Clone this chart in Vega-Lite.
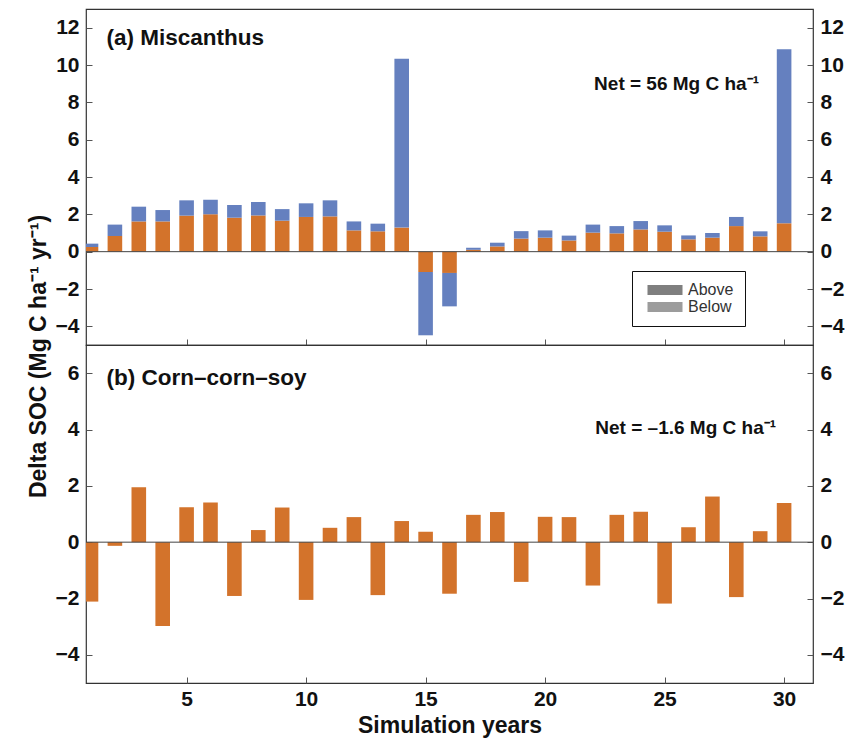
{
  "$schema": "https://vega.github.io/schema/vega-lite/v6.json",
  "padding": {"left": 26, "top": 8, "right": 0, "bottom": 0},
  "background": "white",
  "datasets": {
    "misc": [
      {"year": 1, "part": "Below", "value": 0.25}, {"year": 1, "part": "Above", "value": 0.18},
      {"year": 2, "part": "Below", "value": 0.84}, {"year": 2, "part": "Above", "value": 0.61},
      {"year": 3, "part": "Below", "value": 1.62}, {"year": 3, "part": "Above", "value": 0.79},
      {"year": 4, "part": "Below", "value": 1.62}, {"year": 4, "part": "Above", "value": 0.61},
      {"year": 5, "part": "Below", "value": 1.93}, {"year": 5, "part": "Above", "value": 0.82},
      {"year": 6, "part": "Below", "value": 2.0}, {"year": 6, "part": "Above", "value": 0.78},
      {"year": 7, "part": "Below", "value": 1.82}, {"year": 7, "part": "Above", "value": 0.68},
      {"year": 8, "part": "Below", "value": 1.94}, {"year": 8, "part": "Above", "value": 0.72},
      {"year": 9, "part": "Below", "value": 1.66}, {"year": 9, "part": "Above", "value": 0.62},
      {"year": 10, "part": "Below", "value": 1.86}, {"year": 10, "part": "Above", "value": 0.73},
      {"year": 11, "part": "Below", "value": 1.89}, {"year": 11, "part": "Above", "value": 0.86},
      {"year": 12, "part": "Below", "value": 1.14}, {"year": 12, "part": "Above", "value": 0.48},
      {"year": 13, "part": "Below", "value": 1.09}, {"year": 13, "part": "Above", "value": 0.41},
      {"year": 14, "part": "Below", "value": 1.29}, {"year": 14, "part": "Above", "value": 9.05},
      {"year": 15, "part": "Below", "value": -1.09}, {"year": 15, "part": "Above", "value": -3.39},
      {"year": 16, "part": "Below", "value": -1.14}, {"year": 16, "part": "Above", "value": -1.79},
      {"year": 17, "part": "Below", "value": 0.1}, {"year": 17, "part": "Above", "value": 0.11},
      {"year": 18, "part": "Below", "value": 0.28}, {"year": 18, "part": "Above", "value": 0.2},
      {"year": 19, "part": "Below", "value": 0.7}, {"year": 19, "part": "Above", "value": 0.4},
      {"year": 20, "part": "Below", "value": 0.75}, {"year": 20, "part": "Above", "value": 0.39},
      {"year": 21, "part": "Below", "value": 0.6}, {"year": 21, "part": "Above", "value": 0.26},
      {"year": 22, "part": "Below", "value": 1.02}, {"year": 22, "part": "Above", "value": 0.43},
      {"year": 23, "part": "Below", "value": 0.98}, {"year": 23, "part": "Above", "value": 0.39},
      {"year": 24, "part": "Below", "value": 1.19}, {"year": 24, "part": "Above", "value": 0.45},
      {"year": 25, "part": "Below", "value": 1.07}, {"year": 25, "part": "Above", "value": 0.34},
      {"year": 26, "part": "Below", "value": 0.66}, {"year": 26, "part": "Above", "value": 0.21},
      {"year": 27, "part": "Below", "value": 0.75}, {"year": 27, "part": "Above", "value": 0.25},
      {"year": 28, "part": "Below", "value": 1.37}, {"year": 28, "part": "Above", "value": 0.49},
      {"year": 29, "part": "Below", "value": 0.82}, {"year": 29, "part": "Above", "value": 0.27},
      {"year": 30, "part": "Below", "value": 1.52}, {"year": 30, "part": "Above", "value": 9.32}
    ],
    "ccs": [
      {"year": 1, "value": -2.11}, {"year": 2, "value": -0.13}, {"year": 3, "value": 1.95},
      {"year": 4, "value": -2.98}, {"year": 5, "value": 1.24}, {"year": 6, "value": 1.41},
      {"year": 7, "value": -1.91}, {"year": 8, "value": 0.43}, {"year": 9, "value": 1.23},
      {"year": 10, "value": -2.05}, {"year": 11, "value": 0.51}, {"year": 12, "value": 0.89},
      {"year": 13, "value": -1.88}, {"year": 14, "value": 0.75}, {"year": 15, "value": 0.37},
      {"year": 16, "value": -1.83}, {"year": 17, "value": 0.97}, {"year": 18, "value": 1.07},
      {"year": 19, "value": -1.41}, {"year": 20, "value": 0.9}, {"year": 21, "value": 0.89},
      {"year": 22, "value": -1.54}, {"year": 23, "value": 0.97}, {"year": 24, "value": 1.08},
      {"year": 25, "value": -2.18}, {"year": 26, "value": 0.53}, {"year": 27, "value": 1.62},
      {"year": 28, "value": -1.95}, {"year": 29, "value": 0.39}, {"year": 30, "value": 1.39}
    ]
  },
  "config": {
    "view": {"stroke": "#333", "strokeWidth": 1.2},
    "font": "Liberation Sans",
    "axis": {
      "grid": false, "domain": false, "tickColor": "#555", "tickSize": -6,
      "labelFontSize": 21, "labelFontWeight": "bold", "labelColor": "#111",
      "titleFontWeight": "bold", "titleColor": "#111", "labelPadding": 13
    }
  },
  "spacing": 0,
  "bounds": "flush",
  "vconcat": [
    {
      "width": 727, "height": 336,
      "layer": [
        {
          "data": {"name": "misc"},
          "mark": {"type": "bar", "size": 14.6, "clip": true},
          "encoding": {
            "x": {"field": "year", "type": "quantitative",
              "scale": {"domain": [1, 31], "nice": false, "zero": false},
              "axis": {"values": [5, 10, 15, 20, 25, 30], "labels": false, "title": null}},
            "y": {"field": "value", "type": "quantitative", "stack": "zero",
              "scale": {"domain": [-5, 13], "nice": false},
              "axis": {"values": [-4, -2, 0, 2, 4, 6, 8, 10, 12],
                "title": "Delta SOC (Mg C ha⁻¹ yr⁻¹)", "titleFontSize": 23,
                "titleX": -48, "titleY": 347, "titleAngle": -90,
                "titleAlign": "center", "titleBaseline": "middle"}},
            "color": {"field": "part", "type": "nominal",
              "scale": {"domain": ["Above", "Below"], "range": ["#6580bf", "#d3732b"]},
              "legend": null},
            "order": {"field": "part", "sort": "descending"}
          }
        },
        {
          "data": {"values": [{"comp": "Above"}, {"comp": "Below"}]},
          "mark": {"type": "point", "filled": true, "opacity": 0, "size": 1},
          "encoding": {
            "fill": {"field": "comp", "type": "nominal",
              "scale": {"range": ["#7f7f7f", "#9c9c9c"]},
              "legend": {"orient": "none", "legendX": 546, "legendY": 262, "title": null,
                "direction": "vertical", "symbolType": "M-3.5,-1H3.5V1H-3.5Z", "symbolSize": 100,
                "symbolOffset": 14, "labelFontSize": 16, "labelFontWeight": "normal", "labelColor": "#333",
                "strokeColor": "#111", "fillColor": "white", "padding": 11, "rowPadding": 1,
                "labelOffset": 15, "symbolStrokeWidth": 0, "symbolOpacity": 1}}
          }
        },
        {
          "data": {"values": [{"z": 0}]},
          "mark": {"type": "rule", "color": "#444", "strokeWidth": 1},
          "encoding": {
            "y": {"field": "z", "type": "quantitative",
              "scale": {"domain": [-5, 13], "nice": false},
              "axis": {"orient": "right", "values": [-4, -2, 0, 2, 4, 6, 8, 10, 12], "title": null}}
          }
        },
        {
          "data": {"values": [{"label": "(a) Miscanthus"}]},
          "mark": {"type": "text", "align": "left", "baseline": "middle", "fontSize": 22.5, "fontWeight": "bold", "color": "#111"},
          "encoding": {
            "x": {"datum": 1.65, "type": "quantitative", "axis": null},
            "y": {"datum": 11.45, "type": "quantitative", "axis": null},
            "text": {"field": "label"}
          }
        },
        {
          "data": {"values": [{"label": "Net = 56 Mg C ha⁻¹"}]},
          "mark": {"type": "text", "align": "left", "baseline": "middle", "fontSize": 19, "fontWeight": "bold", "color": "#111"},
          "encoding": {
            "x": {"datum": 22.05, "type": "quantitative", "axis": null},
            "y": {"datum": 8.96, "type": "quantitative", "axis": null},
            "text": {"field": "label"}
          }
        }
      ],
      "resolve": {"axis": {"y": "independent", "x": "independent"}}
    },
    {
      "width": 727, "height": 338,
      "layer": [
        {
          "data": {"name": "ccs"},
          "mark": {"type": "bar", "size": 14.6, "clip": true, "color": "#d3732b"},
          "encoding": {
            "x": {"field": "year", "type": "quantitative",
              "scale": {"domain": [1, 31], "nice": false, "zero": false},
              "axis": {"values": [5, 10, 15, 20, 25, 30], "title": "Simulation years",
                "titleFontSize": 23, "titlePadding": 5, "labelPadding": 11}},
            "y": {"field": "value", "type": "quantitative",
              "scale": {"domain": [-5, 7], "nice": false},
              "axis": {"values": [-4, -2, 0, 2, 4, 6], "title": null}}
          }
        },
        {
          "data": {"values": [{"z": 0}]},
          "mark": {"type": "rule", "color": "#444", "strokeWidth": 1},
          "encoding": {
            "y": {"field": "z", "type": "quantitative",
              "scale": {"domain": [-5, 7], "nice": false},
              "axis": {"orient": "right", "values": [-4, -2, 0, 2, 4, 6], "title": null}}
          }
        },
        {
          "data": {"values": [{"label": "(b) Corn–corn–soy"}]},
          "mark": {"type": "text", "align": "left", "baseline": "middle", "fontSize": 22.5, "fontWeight": "bold", "color": "#111"},
          "encoding": {
            "x": {"datum": 1.65, "type": "quantitative", "axis": null},
            "y": {"datum": 5.83, "type": "quantitative", "axis": null},
            "text": {"field": "label"}
          }
        },
        {
          "data": {"values": [{"label": "Net = –1.6 Mg C ha⁻¹"}]},
          "mark": {"type": "text", "align": "left", "baseline": "middle", "fontSize": 19, "fontWeight": "bold", "color": "#111"},
          "encoding": {
            "x": {"datum": 22.1, "type": "quantitative", "axis": null},
            "y": {"datum": 4.06, "type": "quantitative", "axis": null},
            "text": {"field": "label"}
          }
        }
      ],
      "resolve": {"axis": {"y": "independent", "x": "independent"}}
    }
  ]
}
